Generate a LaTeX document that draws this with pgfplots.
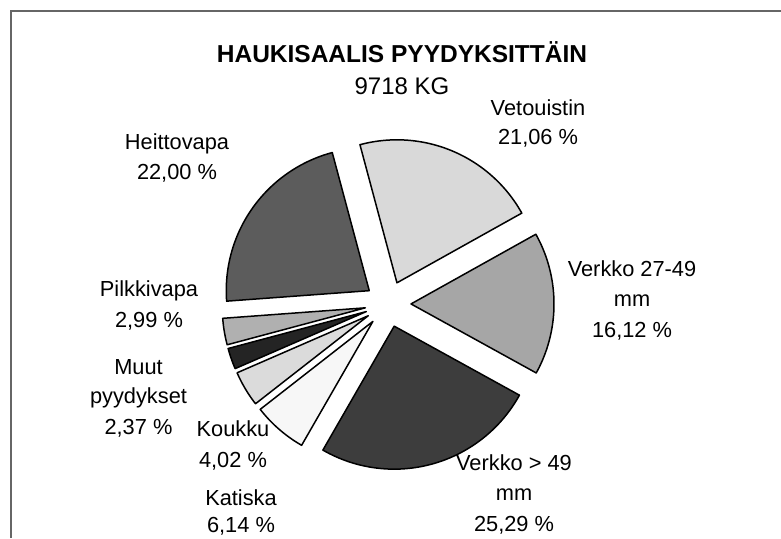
\documentclass[border=0pt]{standalone}
\usepackage{pgfplots}
\usepackage{pgfplotstable}
\pgfplotsset{compat=1.18}
\usepackage{fontspec}
\setmainfont{Liberation Sans}

% pie data: share in percent, grey shade (percent black), clockwise from 105 degrees
\pgfplotstableread[col sep=comma]{
name,value,shade
Vetouistin,21.06,15
Verkko 27-49 mm,16.12,35
Verkko > 49 mm,25.29,76
Katiska,6.14,3
Koukku,4.02,14
Muut pyydykset,2.37,86
Pilkkivapa,2.99,31
Heittovapa,22.00,64
}\piedata

\newcommand\lab[3]{\node[anchor=base,font=\fontsize{21.8}{25}\selectfont,inner sep=0pt] at (axis cs:#1,#2) {#3};}

\begin{document}
\begin{tikzpicture}
\useasboundingbox (0,0) rectangle (781pt,538pt);
\begin{axis}[
  at={(0,0)},anchor=south west,
  width=781pt,height=538pt,scale only axis,
  xmin=0,xmax=781,ymin=0,ymax=538,
  hide axis,clip=false]
% frame
\draw[line width=2pt,color=black!60] (axis cs:10.5,0) -- (axis cs:10.5,526.5) -- (axis cs:781,526.5);
% pie slices computed from the table
\gdef\cum{105}
\pgfplotsforeachungrouped \i in {0,...,7}{%
  \pgfplotstablegetelem{\i}{value}\of\piedata \let\v\pgfplotsretval
  \pgfplotstablegetelem{\i}{shade}\of\piedata \let\s\pgfplotsretval
  \pgfmathsetmacro\a{\cum}%
  \pgfmathsetmacro\b{\cum-360*\v/99.99}%
  \pgfmathsetmacro\m{(\a+\b)/2}%
  \pgfmathsetmacro\px{388+23*cos(\m)}%
  \pgfmathsetmacro\py{234+23*sin(\m)}%
  \edef\tmp{\noexpand\addplot[draw=black,line width=1.5pt,line join=round,fill=black!\s!white,domain=\b:\a,samples=60]
    ({\px+143*cos(x)},{\py+143*sin(x)}) -- (axis cs:\px,\py) -- cycle;}%
  \tmp
  \global\let\cum\b
}
% titles
\node[anchor=base,font=\fontsize{24.5}{28}\selectfont\bfseries,inner sep=0pt] at (axis cs:402,475.3) {HAUKISAALIS PYYDYKSITTÄIN};
\node[anchor=base,font=\fontsize{24}{28}\selectfont,inner sep=0pt] at (axis cs:402,443) {9718 KG};
% labels
\lab{538}{422}{Vetouistin}
\lab{538}{393}{21,06 \%}
\lab{177}{388}{Heittovapa}
\lab{177}{358}{22,00 \%}
\lab{632}{261}{Verkko 27-49}
\lab{632}{231}{mm}
\lab{632}{200}{16,12 \%}
\lab{149}{241}{Pilkkivapa}
\lab{149}{210}{2,99 \%}
\lab{138.5}{163}{Muut}
\lab{138.5}{134}{pyydykset}
\lab{138.5}{103}{2,37 \%}
\lab{233}{101}{Koukku}
\lab{233}{71}{4,02 \%}
\lab{241}{33}{Katiska}
\lab{241}{6}{6,14 \%}
\lab{514}{67}{Verkko > 49}
\lab{514}{38}{mm}
\lab{514}{7}{25,29 \%}
\end{axis}
\end{tikzpicture}
\end{document}
